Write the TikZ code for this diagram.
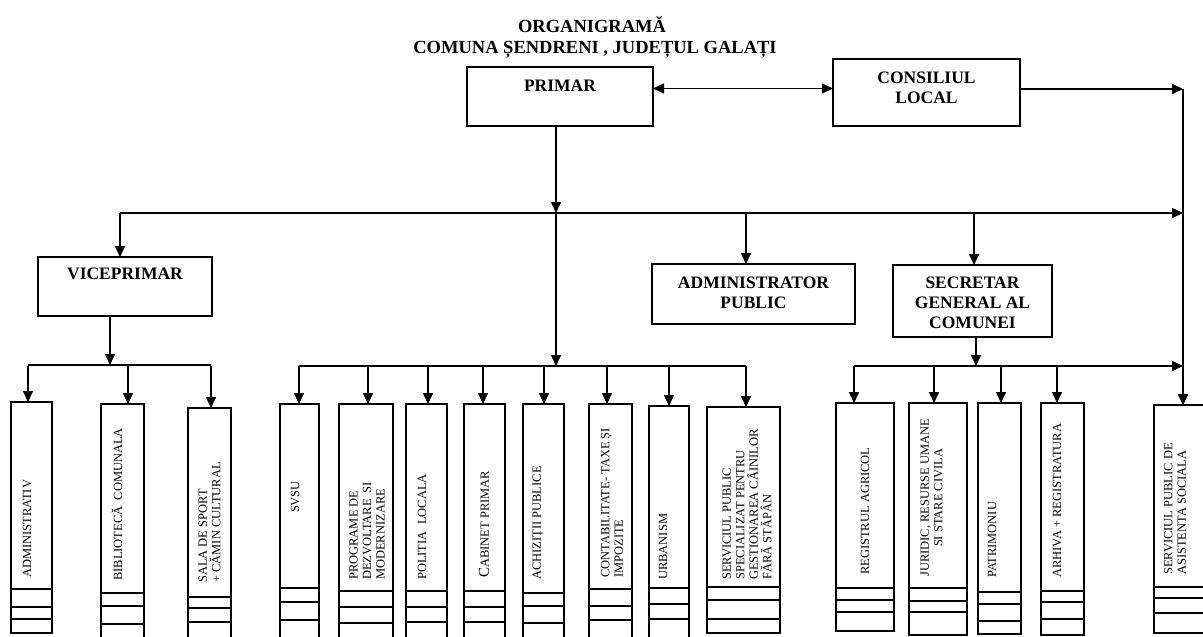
\documentclass[tikz,border=0pt]{standalone}
\usepackage{fontspec}
\setmainfont{Liberation Serif}
\usetikzlibrary{arrows.meta}
\newcommand\colbx[9]{%
  \node[hbox, minimum width=#3pt-#2pt, minimum height=#5pt-#4pt] (#1) at (#2,#4) {};
  \draw[ln] (#1.south west) rectangle (#3,#8);
  \draw[ln] (#2,#6) -- (#3,#6);
  \draw[ln] (#2,#7) -- (#3,#7);
  \coordinate (#1-in) at (#9,366);
  \draw[arr] (#1-in) -- (#1-in |- #1.north);
}
\begin{document}
\begin{tikzpicture}[x=1pt,y=-1pt,
  ln/.style={line width=1.6pt},
  arr/.style={ln,-{Triangle[length=11pt,width=10pt]}},
  darr/.style={ln,{Triangle[length=11pt,width=10pt]}-{Triangle[length=11pt,width=10pt]}},
  hbox/.style={draw,ln,inner sep=0,outer sep=0,anchor=north west},
  hdr/.style={font=\fontsize{17.5}{20}\selectfont\bfseries,align=center,anchor=north,inner sep=0},
  ttl/.style={font=\fontsize{18.5}{21}\selectfont\bfseries,anchor=base,inner sep=0},
  vt/.style={font=\fontsize{12.5}{13.5}\selectfont,rotate=90,anchor=west,inner sep=0,align=left},
  vtc/.style={vt,align=center},
]
\useasboundingbox[fill=white] (0,0) rectangle (1203,637);

% title
\node[ttl] (title1) at (592,32) {ORGANIGRAMĂ};
\node[ttl] (title2) at (595,53) {COMUNA ȘENDRENI , JUDEȚUL GALAȚI};

% top level boxes
\node[hbox, minimum width=186pt, minimum height=59pt] (primar) at (467,67) {};
\node[hdr] (primar-t) at ([yshift=-13pt]primar.north) {PRIMAR};
\node[hbox, minimum width=187pt, minimum height=67pt] (consiliu) at (833,59) {};
\node[hdr] (consiliu-t) at ([yshift=-13pt]consiliu.north) {CONSILIUL\\LOCAL};

\node[hbox, minimum width=174pt, minimum height=59pt] (vice) at (38,257) {};
\node[hdr] (vice-t) at ([yshift=-11pt]vice.north) {VICEPRIMAR};
\node[hbox, minimum width=203pt, minimum height=60pt] (admin) at (652,264) {};
\node[hdr] (admin-t) at ([yshift=-13pt]admin.north) {ADMINISTRATOR\\PUBLIC};
\node[hbox, minimum width=159pt, minimum height=72pt] (secretar) at (893,265) {};
\node[hdr] (secretar-t) at ([yshift=-12pt]secretar.north) {SECRETAR\\GENERAL AL\\COMUNEI};

% columns
\colbx{adm}{11}{52}{402}{589}{607}{619}{633}{28}
\colbx{bib}{101}{144}{404}{593}{606}{624}{645}{128}
\colbx{sala}{188}{231}{408}{597}{608}{622}{645}{211}
\colbx{svsu}{280}{319}{404}{588}{602}{620}{645}{299}
\colbx{prog}{339}{393}{404}{591}{607}{623}{645}{368}
\colbx{pol}{406}{447}{404}{591}{607}{622}{645}{428}
\colbx{cab}{464}{505}{404}{591}{607}{622}{645}{483}
\colbx{ach}{523}{564}{404}{593}{606}{623}{645}{544}
\colbx{cont}{589}{632}{404}{589}{606}{620}{645}{607}
\colbx{urb}{649}{689}{406}{588}{604}{619}{645}{669}
\colbx{sp}{707}{780}{407}{587}{600}{619}{633}{746}
\colbx{reg}{836}{894}{403}{588}{600}{612}{631}{854}
\colbx{jur}{909}{967}{403}{588}{601}{612}{635}{934}
\colbx{pat}{978}{1021}{403}{592}{604}{621}{634}{1001}
\colbx{arh}{1041}{1084}{403}{591}{602}{619}{635}{1057}
\colbx{spas}{1154}{1215}{405}{587}{598}{613}{633}{1183}

% column texts
\node[vt] (adm-t) at (27,578) {ADMINISTRATIV};
\node[vt] (bib-t) at (117,581) {BIBLIOTECĂ\ \ COMUNALA};
\node[vt] (sala-t) at (209.5,583) {SALA DE SPORT\\+ CĂMIN CULTURAL};
\node[vt, anchor=center] (svsu-t) at (295,497) {SVSU};
\node[vt] (prog-t) at (367,580) {PROGRAME DE\\DEZVOLTARE\ \ SI\\MODERNIZARE};
\node[vt] (pol-t) at (422,580) {POLITIA\ \ LOCALA};
\node[vt] (cab-t) at (484,578) {{\fontsize{15}{15}\selectfont C}ABINET PRIMAR};
\node[vt] (ach-t) at (538,580) {ACHIZIȚII PUBLICE};
\node[vt] (cont-t) at (612,578) {CONTABILITATE- TAXE ȘI\\IMPOZITE};
\node[vt] (urb-t) at (663,580) {URBANISM};
\node[vt] (sp-t) at (747,580) {SERVICIUL PUBLIC\\SPECIALIZAT PENTRU\\GESTIONAREA CÂINILOR\\FĂRĂ STĂPÂN};
\node[vt] (reg-t) at (865,575) {REGISTRUL AGRICOL};
\node[vtc] (jur-t) at (931.5,577) {JURIDIC, RESURSE UMANE\\SI STARE CIVILA};
\node[vt] (pat-t) at (992,578) {PATRIMONIU};
\node[vt] (arh-t) at (1057,578) {ARHIVA + REGISTRATURA};
\node[vt] (spas-t) at (1175,575) {SERVICIUL PUBLIC DE\\ASISTENTA SOCIALA};

% connectors
\coordinate (mainL) at (120,213);
\coordinate (mainR) at (1183,213);
\coordinate (rtop) at (1183,89);
\coordinate (pB) at (556,366);
\coordinate (viceB) at (110,365);
\coordinate (secB) at (976,366);
\coordinate (adminX) at (746,213);
\coordinate (secX) at (974,213);

\draw[darr] ([yshift=8pt]primar.east) -- ([yshift=8pt]primar.east -| consiliu.west);
\draw[arr] ([yshift=3.5pt]consiliu.east) -- (rtop);
\draw[arr] (rtop) -- (rtop |- spas.north);
\draw[arr] (mainL) -- (mainR);
\draw[arr] (mainL) -- (mainL |- vice.north);
\draw[arr] (pB |- primar.south) -- (pB |- mainL);
\draw[arr] (pB |- mainL) -- (pB);
\draw[arr] (adminX) -- (adminX |- admin.north);
\draw[arr] (secX) -- (secX |- secretar.north);

% vice group
\draw[arr] (viceB |- vice.south) -- (viceB);
\draw[ln] (adm-in |- viceB) -- (sala-in |- viceB);
% middle group
\draw[ln] (svsu-in) -- (sp-in);
% secretar group
\draw[arr] (secB |- secretar.south) -- (secB);
\draw[arr] (reg-in) -- (spas-in);
\end{tikzpicture}
\end{document}
